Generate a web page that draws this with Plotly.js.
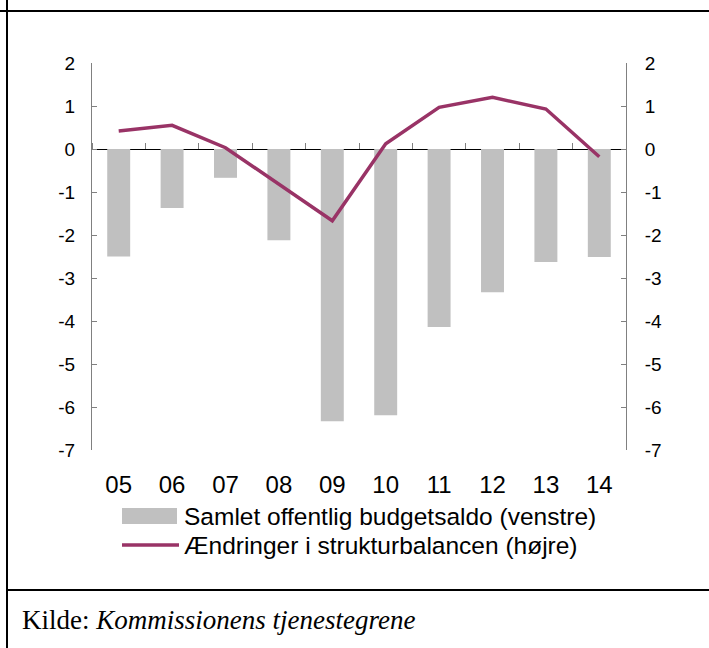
<!DOCTYPE html>
<html>
<head>
<meta charset="utf-8">
<script src="https://cdn.plot.ly/plotly-3.0.1.min.js"></script>
<style>html,body{margin:0;padding:0;background:#fff;}#chart{width:709px;height:648px;}</style>
</head>
<body>
<div id="chart"></div>
<script>
// ---- data ----
const years = ["05","06","07","08","09","10","11","12","13","14"];
const budgetBalance = [-2.5, -1.37, -0.67, -2.12, -6.33, -6.19, -4.14, -3.33, -2.63, -2.51];
const structuralChange = [0.42, 0.55, 0.03, -0.82, -1.67, 0.12, 0.97, 1.2, 0.93, -0.18];
const barName = "Samlet offentlig budgetsaldo (venstre)";
const lineName = "Ændringer i strukturbalancen (højre)";
const sourceLabel = "Kilde: ";
const sourceText = "Kommissionens tjenestegrene";
const yTicks = [2, 1, 0, -1, -2, -3, -4, -5, -6, -7];
const yTickLabels = ["2", "1", "0", "-1", "-2", "-3", "-4", "-5", "-6", "-7"];

const barColor = "#C0C0C0";
const lineColor = "#993366";
const axisGray = "#808080";
const sans = "Liberation Sans, Arial, sans-serif";

const traces = [
  {type: "bar", x: years, y: budgetBalance, name: barName,
   marker: {color: barColor}, yaxis: "y", xaxis: "x", showlegend: false},
  {type: "scatter", mode: "lines", x: years, y: structuralChange, name: lineName,
   line: {color: lineColor, width: 3.5}, yaxis: "y2", xaxis: "x", showlegend: false}
];

// pixel -> paper helpers for decorative frame/legend
const L = 92, R = 83, T = 63, B = 198, W = 709, H = 648;
const pw = W - L - R, ph = H - T - B;
const px = v => (v - L) / pw;
const py = v => (H - B - v) / ph;

const yAxisCommon = {
  range: [-7, 2], tickmode: "array", tickvals: yTicks, ticktext: yTickLabels,
  ticks: "inside", ticklen: 5, tickcolor: axisGray,
  showline: true, linecolor: axisGray, linewidth: 1, showgrid: false,
  tickfont: {family: sans, size: 19, color: "#000"}, fixedrange: true
};

const layout = {
  width: W, height: H,
  margin: {l: L, r: R, t: T, b: B},
  paper_bgcolor: "#fff", plot_bgcolor: "#fff",
  showlegend: false,
  bargap: 0.57,
  xaxis: {type: "category", range: [-0.5, 9.5], showline: false, ticks: "", showgrid: false,
          tickfont: {family: sans, size: 24, color: "#000"}, ticklabelstandoff: 18, zeroline: false},
  xaxis2: {overlaying: "x", anchor: "free", position: 7/9, side: "top", range: [0, 10],
           tickvals: [0,1,2,3,4,5,6,7,8,9,10], ticks: "outside", ticklen: 6, tickcolor: axisGray,
           showticklabels: false, showline: false, showgrid: false, zeroline: false},
  yaxis: Object.assign({}, yAxisCommon, {zeroline: true, zerolinecolor: "#000", zerolinewidth: 1, ticklabelstandoff: 12}),
  yaxis2: Object.assign({}, yAxisCommon, {overlaying: "y", side: "right", zeroline: false, ticklabelstandoff: 14}),
  shapes: [
    // frame lines
    {type: "line", xref: "paper", yref: "paper", x0: px(0), x1: px(W), y0: py(11), y1: py(11), line: {color: "#000", width: 2}},
    {type: "line", xref: "paper", yref: "paper", x0: px(7), x1: px(7), y0: py(0), y1: py(H), line: {color: "#000", width: 2}},
    {type: "line", xref: "paper", yref: "paper", x0: px(7), x1: px(W), y0: py(590), y1: py(590), line: {color: "#000", width: 2}},
    // legend swatches
    {type: "rect", xref: "paper", yref: "paper", x0: px(122), x1: px(177), y0: py(508), y1: py(524), fillcolor: barColor, line: {width: 0}},
    {type: "line", xref: "paper", yref: "paper", x0: px(122), x1: px(179), y0: py(545), y1: py(545), line: {color: lineColor, width: 3.5}}
  ],
  annotations: [
    {xref: "paper", yref: "paper", x: px(182), y: py(516), xanchor: "left", yanchor: "middle", showarrow: false,
     text: barName, font: {family: sans, size: 24.5, color: "#000"}},
    {xref: "paper", yref: "paper", x: px(182), y: py(545), xanchor: "left", yanchor: "middle", showarrow: false,
     text: lineName, font: {family: sans, size: 24.5, color: "#000"}},
    {xref: "paper", yref: "paper", x: px(20), y: py(620), xanchor: "left", yanchor: "middle", showarrow: false,
     text: sourceLabel + "<i>" + sourceText + "</i>", font: {family: "Liberation Serif, Times New Roman, serif", size: 27, color: "#000"}}
  ]
};

// empty trace so the overlaying tick axis is rendered
traces.push({type: "scatter", x: [], y: [], xaxis: "x2", yaxis: "y", showlegend: false, hoverinfo: "skip"});

Plotly.newPlot("chart", traces, layout, {displayModeBar: false, staticPlot: true});
</script>
</body>
</html>
